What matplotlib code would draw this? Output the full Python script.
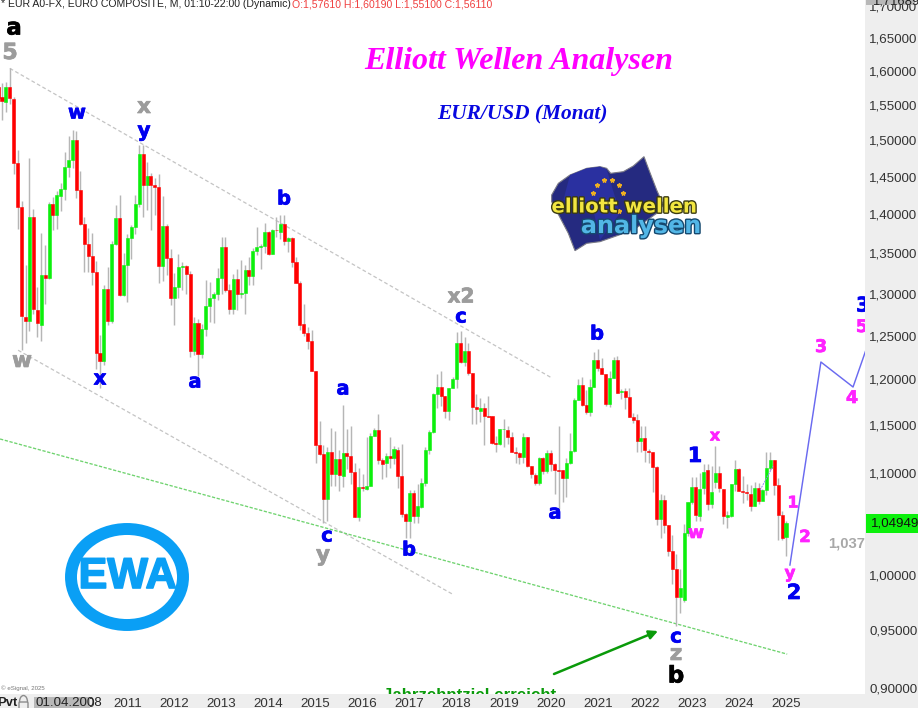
import matplotlib
matplotlib.use("Agg")
import matplotlib.pyplot as plt
from matplotlib.patches import Ellipse, Polygon, Rectangle, FancyBboxPatch, Arc
from matplotlib.ticker import FixedLocator, FixedFormatter, NullLocator
import matplotlib.patheffects as pe

plt.rcParams['font.family'] = ['Liberation Sans', 'DejaVu Sans']

# Monthly candles, April 2008 to January 2025
OPEN = [
 1.577,1.561,1.554,1.576,1.559,1.469,1.409,1.272,1.267,
 1.396,1.280,1.263,1.323,1.319,1.413,1.399,1.424,1.433,1.463,1.473,1.500,
 1.432,1.387,1.362,1.347,1.326,1.230,1.221,1.306,1.267,1.362,1.395,1.298,
 1.335,1.369,1.383,1.414,1.481,1.4385,1.451,1.4385,1.4365,1.3345,1.385,1.344,
 1.295,1.308,1.333,1.3345,1.3236,1.232,1.265,1.229,1.2576,1.285,1.295,1.299,
 1.319,1.358,1.305,1.281,1.318,1.2995,1.301,1.329,1.3215,1.353,1.358,1.359,
 1.377,1.349,1.380,1.377,1.387,1.365,1.369,1.339,1.313,1.2636,1.2526,1.2442,
 1.2094,1.1288,1.1193,1.0731,1.1211,1.099,1.1141,1.0971,1.1201,1.1176,1.1007,1.0557,
 1.0851,1.0831,1.0868,1.1382,1.1447,1.1127,1.110,1.1171,1.1157,1.1235,1.0971,1.0584,
 1.0515,1.0796,1.057,1.0657,1.0891,1.1238,1.1426,1.1837,1.1914,1.1812,1.1652,1.190,
 1.2003,1.2418,1.2196,1.2321,1.2075,1.1691,1.1652,1.1684,1.1597,1.1597,1.1312,1.1301,
 1.1454,1.1447,1.1369,1.1218,1.1207,1.1165,1.1369,1.1069,1.0982,1.0894,1.1152,1.1017,
 1.1201,1.1092,1.1024,1.1032,1.0949,1.1096,1.1224,1.1772,1.1937,1.1716,1.1644,1.1918,
 1.2215,1.2132,1.2064,1.1728,1.2018,1.2219,1.186,1.187,1.1804,1.1582,1.1560,1.1334,
 1.1365,1.123,1.1218,1.1061,1.0538,1.0723,1.0477,1.0224,1.0052,0.9797,0.977,1.0395,
 1.070,1.0851,1.0566,1.084,1.1027,1.0683,1.0908,1.0993,1.0834,1.056,1.0566,1.0881,
 1.1034,1.0814,1.0808,1.0782,1.0663,1.0847,1.0716,1.0824,1.1044,1.1131,1.0874,1.0573,
 1.0356]
HIGH = [
 1.603,1.582,1.584,1.604,1.562,1.486,1.418,1.335,1.476,
 1.407,1.308,1.376,1.360,1.416,1.4226,1.430,1.4418,1.483,1.5055,1.5145,1.5131,
 1.458,1.396,1.382,1.376,1.340,1.2505,1.311,1.333,1.365,1.412,1.425,1.350,
 1.375,1.386,1.425,1.494,1.494,1.470,1.455,1.448,1.454,1.424,1.387,1.355,
 1.325,1.349,1.339,1.335,1.328,1.272,1.270,1.264,1.317,1.314,1.302,1.331,
 1.371,1.371,1.312,1.324,1.330,1.342,1.335,1.345,1.357,1.383,1.362,1.389,
 1.378,1.381,1.396,1.399,1.399,1.370,1.370,1.345,1.316,1.288,1.260,1.257,
 1.210,1.154,1.129,1.127,1.1467,1.144,1.1235,1.1714,1.146,1.1495,1.110,1.105,
 1.099,1.137,1.142,1.1465,1.1615,1.115,1.120,1.137,1.128,1.127,1.130,1.059,
 1.082,1.082,1.089,1.095,1.127,1.145,1.185,1.206,1.209,1.182,1.190,1.203,
 1.254,1.2556,1.248,1.2415,1.2075,1.184,1.179,1.174,1.1815,1.1597,1.138,1.146,
 1.157,1.149,1.143,1.127,1.121,1.142,1.137,1.1069,1.100,1.1165,1.1165,1.124,
 1.124,1.110,1.1495,1.103,1.115,1.142,1.179,1.201,1.203,1.188,1.200,1.231,
 1.235,1.224,1.2064,1.209,1.2258,1.2266,1.1898,1.190,1.190,1.163,1.162,1.149,
 1.149,1.1245,1.1218,1.107,1.078,1.077,1.0477,1.0378,1.0198,1.006,1.0491,1.070,
 1.096,1.096,1.100,1.109,1.109,1.107,1.1277,1.107,1.0834,1.061,1.0881,1.1131,
 1.1044,1.097,1.089,1.088,1.091,1.090,1.083,1.121,1.1218,1.1131,1.095,1.061,
 1.052]
LOW = [
 1.553,1.529,1.540,1.552,1.454,1.381,1.233,1.241,1.255,
 1.275,1.248,1.244,1.288,1.318,1.379,1.381,1.404,1.419,1.449,1.462,1.4216,
 1.386,1.326,1.326,1.311,1.212,1.190,1.216,1.262,1.265,1.360,1.297,1.297,
 1.290,1.343,1.375,1.410,1.396,1.405,1.380,1.399,1.313,1.315,1.323,1.286,
 1.262,1.295,1.305,1.300,1.225,1.228,1.204,1.224,1.250,1.266,1.265,1.292,
 1.300,1.302,1.275,1.275,1.280,1.295,1.276,1.310,1.311,1.348,1.330,1.350,
 1.348,1.349,1.370,1.368,1.360,1.352,1.333,1.313,1.257,1.250,1.235,1.209,
 1.1096,1.118,1.050,1.052,1.086,1.087,1.081,1.085,1.104,1.089,1.0557,1.052,
 1.081,1.082,1.0868,1.1382,1.109,1.094,1.096,1.105,1.109,1.084,1.056,1.035,
 1.035,1.050,1.050,1.064,1.087,1.119,1.142,1.168,1.171,1.158,1.156,1.190,
 1.190,1.219,1.215,1.205,1.151,1.151,1.153,1.129,1.159,1.130,1.122,1.129,
 1.127,1.130,1.121,1.110,1.109,1.110,1.106,1.095,1.088,1.088,1.099,1.100,
 1.102,1.078,1.0636,1.070,1.075,1.109,1.122,1.177,1.171,1.162,1.160,1.192,
 1.209,1.206,1.171,1.170,1.2018,1.1853,1.1785,1.167,1.1582,1.152,1.122,1.122,
 1.111,1.110,1.0808,1.0472,1.0346,1.0395,1.0177,0.9915,0.9536,0.965,0.975,1.037,
 1.068,1.052,1.052,1.078,1.062,1.064,1.084,1.0807,1.049,1.0445,1.056,1.081,
 1.081,1.069,1.072,1.061,1.066,1.068,1.072,1.077,1.103,1.077,1.0332,1.0332,
 1.0177]
CLOSE = [
 1.560,1.556,1.576,1.560,1.469,1.409,1.273,1.267,1.396,
 1.282,1.265,1.323,1.319,1.413,1.399,1.425,1.433,1.463,1.473,1.500,1.432,
 1.387,1.362,1.347,1.326,1.230,1.221,1.306,1.267,1.362,1.395,1.298,1.335,
 1.369,1.383,1.414,1.481,1.4385,1.451,1.4385,1.4365,1.3345,1.385,1.344,1.295,
 1.308,1.333,1.3345,1.3236,1.232,1.265,1.229,1.2576,1.285,1.295,1.299,1.319,
 1.358,1.305,1.281,1.318,1.2995,1.301,1.329,1.3215,1.353,1.358,1.359,1.377,
 1.349,1.380,1.379,1.387,1.365,1.369,1.339,1.313,1.263,1.2526,1.2442,1.2094,
 1.1288,1.1193,1.0731,1.1211,1.099,1.1141,1.0977,1.1201,1.1176,1.1007,1.0557,1.0851,
 1.084,1.0868,1.1382,1.1447,1.1127,1.1089,1.1171,1.1157,1.1242,1.0971,1.0584,1.0515,
 1.0796,1.057,1.0663,1.0891,1.1238,1.1426,1.1837,1.1914,1.1812,1.1652,1.190,1.2003,
 1.2418,1.2196,1.2321,1.2075,1.1691,1.1677,1.1684,1.1597,1.1584,1.1312,1.1301,1.1454,
 1.1457,1.1369,1.1218,1.1207,1.1165,1.1369,1.1069,1.099,1.0894,1.1152,1.1017,1.1201,
 1.1092,1.1024,1.1017,1.0949,1.1096,1.1224,1.1772,1.1937,1.1716,1.1644,1.1918,1.2215,
 1.2132,1.2064,1.1728,1.2018,1.2219,1.1853,1.187,1.1804,1.1582,1.156,1.1334,1.1365,
 1.1235,1.1218,1.1061,1.0538,1.0723,1.0477,1.0224,1.0052,0.9797,0.9875,1.0395,1.070,
 1.0851,1.0573,1.083,1.101,1.0683,1.0807,1.0993,1.084,1.0566,1.0573,1.0881,1.1034,
 1.0817,1.0802,1.0793,1.0663,1.084,1.0716,1.0824,1.1044,1.1131,1.0874,1.0573,1.0349,
 1.0495]

YEARS = ['2010','2011','2012','2013','2014','2015','2016','2017','2018','2019',
         '2020','2021','2022','2023','2024','2025']
YEAR_INDEX = [21,33,45,57,69,81,93,105,117,129,141,153,165,177,189,201]
PRICE_TICKS = [0.90,0.95,1.00,1.05,1.10,1.15,1.20,1.25,1.30,1.35,1.40,1.45,1.50,1.55,1.60,1.65,1.70]
PRICE_LABELS = ['0,90000','0,95000','1,00000','1,05000','1,10000','1,15000','1,20000','1,25000',
                '1,30000','1,35000','1,40000','1,45000','1,50000','1,55000','1,60000','1,65000','1,70000']

CHANNEL_TOP_X, CHANNEL_TOP_Y = [3.0, 141.3], [1.604, 1.2016]
CHANNEL_LOW_X, CHANNEL_LOW_Y = [5.1, 115.8], [1.2332, 0.9825]
SUPPORT_X, SUPPORT_Y = [0.5, 201.3], [1.1352, 0.9288]
FORECAST_X = [202.0, 209.9, 218.1, 223.7]
FORECAST_Y = [1.0093, 1.2197, 1.1916, 1.2637]
MINI_X, MINI_Y = [194.4, 197.7], [1.0824, 1.1069]

W, H = 918, 708
PANEL_X, PANEL_Y = 865, 694
fig = plt.figure(figsize=(W/100, H/100), dpi=100, facecolor='#eeeeee')
ax = fig.add_axes([0, (H-PANEL_Y)/H, PANEL_X/W, PANEL_Y/H], facecolor='white')
ax.set_yscale('log')
ax.set_ylim(0.8949, 1.7096)
ax.set_xlim(0.49, 221.15)
for s in ax.spines.values():
    s.set_visible(False)

x = list(range(len(CLOSE)))
ax.vlines(x, LOW, HIGH, color='#b6b6b6', lw=1.05, zorder=2)
cols = ['#0cf00c' if c >= o else '#ff0000' for o, c in zip(OPEN, CLOSE)]
bot = [min(o, c) for o, c in zip(OPEN, CLOSE)]
hgt = [abs(c - o) for o, c in zip(OPEN, CLOSE)]
ax.bar(x, hgt, bottom=bot, width=0.78, color=cols, edgecolor=cols, linewidth=0.4, zorder=3)

ax.plot(CHANNEL_TOP_X, CHANNEL_TOP_Y, color='#c4c4c4', lw=0.9, ls=(0, (3, 2)), zorder=1)
ax.plot(CHANNEL_LOW_X, CHANNEL_LOW_Y, color='#c4c4c4', lw=0.9, ls=(0, (3, 2)), zorder=1)
ax.plot(SUPPORT_X, SUPPORT_Y, color='#6fd36f', lw=0.95, ls=(0, (2.5, 1.2)), zorder=1)
ax.plot(FORECAST_X, FORECAST_Y, color='#6a6af0', lw=1.05, zorder=4)
ax.plot(MINI_X, MINI_Y, color='#8a8af0', lw=0.7, ls=(0, (2, 1)), zorder=4)

ax.xaxis.set_major_locator(FixedLocator(YEAR_INDEX))
ax.xaxis.set_major_formatter(FixedFormatter(YEARS))
ax.yaxis.tick_right()
ax.yaxis.set_major_locator(FixedLocator(PRICE_TICKS))
ax.yaxis.set_major_formatter(FixedFormatter(PRICE_LABELS))
ax.yaxis.set_minor_locator(NullLocator())
ax.tick_params(axis='both', which='major', length=0, labelsize=9.6, labelcolor='#333333')
ax.tick_params(axis='y', pad=3)
ax.tick_params(axis='x', pad=3.2)

# Annotation layer in pixel coordinates, clipped to the plot area
ov = fig.add_axes(ax.get_position(), facecolor='none', zorder=5)
ov.set_xlim(0, PANEL_X)
ov.set_ylim(PANEL_Y, 0)
ov.axis('off')

BLUE, GREY, MAG, BLK = '#0000f0', '#9c9c9c', '#ff22ff', '#000000'
LABELS = [
 (14,28,'a',BLK,16.5),(10,53,'5',GREY,16),(77,113,'w',BLUE,14),(144,107,'x',GREY,15.5),
 (144,131,'y',BLUE,14.5),(284,199,'b',BLUE,14),(22,361,'w',GREY,15.5),(100,379,'x',BLUE,14.5),
 (195,382,'a',BLUE,14),(343,389,'a',BLUE,14),(327,536,'c',BLUE,14),(323,555,'y',GREY,15.5),
 (409,550,'b',BLUE,14),(461,297,'x2',GREY,14.5),(461,317,'c',BLUE,14),(597,334,'b',BLUE,14),
 (555,513,'a',BLUE,14),(695,456,'1',BLUE,15),(715,436,'x',MAG,11.5),(696,533,'w',MAG,12.5),
 (793,503,'1',MAG,11.5),(805,537,'2',MAG,12),(790,573,'y',MAG,12),(794,593,'2',BLUE,15),
 (821,347,'3',MAG,12.5),(852,398,'4',MAG,12.5),(863,306,'3',BLUE,14.5),(862,327,'5',MAG,12.5),
 (676,637,'c',BLUE,14),(676,654,'z',GREY,15.5),(676,676,'b',BLK,16.5),
]
for px, py, s, c, fs in LABELS:
    ov.text(px, py, s, color=c, fontsize=fs, fontweight='bold', family='DejaVu Sans',
            ha='center', va='center', clip_on=True,
            path_effects=[pe.withStroke(linewidth=0.5, foreground=c)])

ov.text(828, 544, '1,0377', color='#a8a8a8', fontsize=10.6, fontweight='bold', va='center', clip_on=True)
ov.text(383, 696, 'Jahrzehntziel erreicht', color='#0a9a0a', fontsize=12.2, fontweight='bold',
        va='center', clip_on=True)
ov.annotate('', xy=(658, 631), xytext=(554, 674),
            arrowprops=dict(arrowstyle='-|>', color='#0a9a0a', lw=1.8, mutation_scale=13,
                            shrinkA=0, shrinkB=0))

ov.text(519, 61, 'Elliott Wellen Analysen', color='#ff00ff', fontsize=23, fontweight='bold',
        fontstyle='italic', family='Liberation Serif', ha='center', va='center')
ov.text(522.5, 114, 'EUR/USD (Monat)', color='#0808e0', fontsize=15.4, fontweight='bold',
        fontstyle='italic', family='Liberation Serif', ha='center', va='center')

ov.text(1, 4, '* EUR A0-FX, EURO COMPOSITE, M, 01:10-22:00 (Dynamic)', color='#222222',
        fontsize=7.6, va='center')
ov.text(292, 4, 'O:1,57610 H:1,60190 L:1,55100 C:1,56110', color='#f04040', fontsize=7.6, va='center')
ov.text(1, 688, '\u00a9 eSignal, 2025', color='#777777', fontsize=4.4, va='center')

# EWA roundel
ov.add_patch(Ellipse((127, 577), 112, 96, fc='none', ec='#0a9ff5', lw=8.6))
ov.text(127.5, 577, 'EWA', color='#0a9ff5', fontsize=31, fontweight='bold', ha='center', va='center',
        path_effects=[pe.withStroke(linewidth=1.2, foreground='#0a9ff5')])

# Elliott-Wellen flag logo
def z6(pts):
    return [(500 + a/3, 130 + b/3) for a, b in pts]
ov.add_patch(Polygon(z6([(155,195),(175,160),(210,135),(260,115),(300,110),(320,115),(332,130),
                         (370,125),(400,108),(432,80),(445,115),(470,180),(490,225),(470,250),
                         (400,300),(300,335),(260,340),(225,362),(205,310),(155,215)]),
                     closed=True, fc='#252a80', ec='#7a7a86', lw=0.8))
ov.add_patch(Polygon(z6([(210,135),(260,115),(300,110),(320,118),(360,250),(300,330),(280,240),(190,210)]),
                     closed=True, fc='#2a30a0', ec='none'))
ov.plot([500 + a/3 for a in (290,312,337,358,370,358,280)],
        [130 + b/3 for b in (165,150,150,165,190,243,190)],
        ls='none', marker='*', ms=3.2, mfc='#f0b020', mec='#f0b020')
ov.text(624.5, 207, 'elliott wellen', color='#f2e640', fontsize=14.2, fontweight='bold',
        family='DejaVu Sans', ha='center', va='center',
        path_effects=[pe.withStroke(linewidth=2, foreground='#3a3a10')])
ov.text(641, 226, 'analysen', color='#52b6e6', fontsize=17.2, fontweight='bold',
        family='DejaVu Sans', ha='center', va='center',
        path_effects=[pe.withStroke(linewidth=2, foreground='#15486e')])

# Panel furniture over the tick labels
top = fig.add_axes([0, 0, 1, 1], facecolor='none', zorder=6)
top.set_xlim(0, W)
top.set_ylim(H, 0)
top.axis('off')
top.add_patch(Rectangle((866, 514), 52, 19, fc='#0cf00c', ec='none'))
top.text(871, 523.5, '1,04949', color='#111111', fontsize=9.6, va='center', clip_on=True)
top.add_patch(Rectangle((866, 0), 49, 5, fc='#b8b8b8', ec='none'))
top.text(872, 1, '1,71689', color='#222222', fontsize=9.4, va='center', clip_on=True)
top.add_patch(Rectangle((34, 697), 56, 11, fc='#b8b8b8', ec='none'))
top.text(36, 703.5, '01.04.2008', color='#222222', fontsize=9.6, va='center', clip_on=True)
top.text(-3, 703.5, 'Pvt', color='#222222', fontsize=9.4, fontweight='bold', va='center', clip_on=True)
top.add_patch(FancyBboxPatch((20, 703), 7, 6, boxstyle='round,pad=1', fc='none', ec='#8c8c8c', lw=1))
top.add_patch(Arc((23.5, 702), 8, 13, theta1=180, theta2=360, ec='#8c8c8c', lw=1))

fig.savefig('out.png', dpi=100, facecolor=fig.get_facecolor())
